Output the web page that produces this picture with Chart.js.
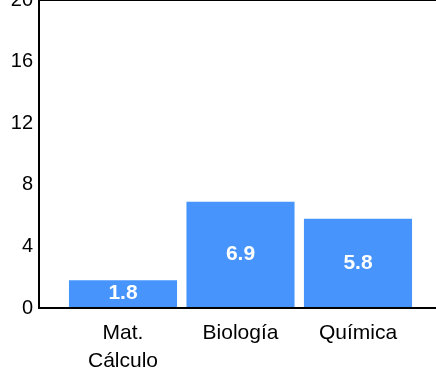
<!DOCTYPE html>
<html>
<head>
<meta charset="utf-8">
<script src="https://cdn.jsdelivr.net/npm/chart.js@4/dist/chart.umd.min.js"></script>
<style>
  html, body { margin: 0; padding: 0; background: #fff; overflow: hidden; }
  body { width: 436px; height: 372px; position: relative; }
  #wrap { position: absolute; left: 0; top: -20px; width: 436px; height: 392px; }
</style>
</head>
<body>
<div id="wrap"><canvas id="chart"></canvas></div>
<script>
const categories = [["Mat.", "Cálculo"], "Biología", "Química"];
const values = [1.8, 6.9, 5.8];
const yTicks = [0, 4, 8, 12, 16, 20];

const barColor = "#4794fc";
const font = "'Liberation Sans', Arial, sans-serif";

// white value text in the middle of each bar
const valueLabels = {
  id: "valueLabels",
  afterDatasetsDraw(chart) {
    const ctx = chart.ctx;
    const meta = chart.getDatasetMeta(0);
    ctx.save();
    ctx.fillStyle = "#fff";
    ctx.font = "bold 21px " + font;
    ctx.textAlign = "center";
    ctx.textBaseline = "middle";
    meta.data.forEach((bar, i) => {
      const { x, y, base } = bar.getProps(["x", "y", "base"], true);
      ctx.fillText(values[i].toFixed(1), x, (y + base) / 2);
    });
    ctx.restore();
  }
};

new Chart(document.getElementById("chart"), {
  type: "bar",
  data: {
    datasets: [{
      data: values.map((v, i) => ({ x: i, y: v })),
      backgroundColor: barColor,
      borderWidth: 0,
      categoryPercentage: 1,
      barPercentage: 0.92
    }]
  },
  options: {
    responsive: true,
    maintainAspectRatio: false,
    animation: false,
    layout: { padding: { top: 20, left: 0, right: 0, bottom: 0 } },
    plugins: { legend: { display: false }, tooltip: { enabled: false } },
    scales: {
      x: {
        type: "linear",
        offset: false,
        min: -0.715,
        max: 2.664,
        afterBuildTicks: s => { s.ticks = categories.map((c, i) => ({ value: i })); },
        afterFit: s => { s.height = 64; },
        grid: { display: false, offset: false },
        border: { display: true, color: "#000", width: 2 },
        ticks: {
          padding: 3,
          color: "#000",
          font: { family: font, size: 21, lineHeight: 1.35 },
          maxRotation: 0,
          autoSkip: false,
          callback: v => categories[v]
        }
      },
      y: {
        min: 0,
        max: 20,
        afterBuildTicks: s => { s.ticks = yTicks.map(v => ({ value: v })); },
        afterFit: s => { s.width = 39; },
        grid: {
          drawTicks: false,
          color: c => (c.tick && c.tick.value === 20 ? "#000" : "rgba(0,0,0,0)"),
          lineWidth: 2
        },
        border: { display: true, color: "#000", width: 2 },
        ticks: {
          padding: 6,
          color: "#000",
          font: { family: font, size: 20 }
        }
      }
    }
  },
  plugins: [valueLabels]
});
</script>
</body>
</html>
